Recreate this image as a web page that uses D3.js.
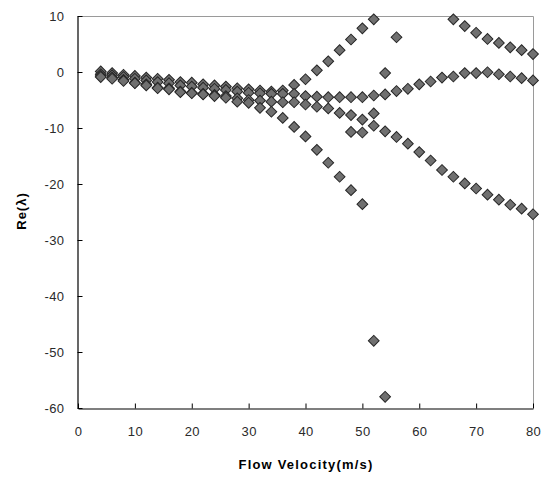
<!DOCTYPE html>
<html>
<head>
<meta charset="utf-8">
<script src="https://cdn.jsdelivr.net/npm/d3@7"></script>
<style>
  body { margin: 0; background: #fff; }
  svg { display: block; font-family: Arial, "Liberation Sans", sans-serif; }
</style>
</head>
<body>
<script>
// flow velocity (m/s), one entry per computed step
const velocity = [4, 6, 8, 10, 12, 14, 16, 18, 20, 22, 24, 26, 28, 30, 32, 34, 36, 38, 40, 42,
                  44, 46, 48, 50, 52, 54, 56, 58, 60, 62, 64, 66, 68, 70, 72, 74, 76, 78, 80];

// Re(lambda) of each root, null where the root is not plotted
const rootRising = [0.1, -0.2, -0.5, -0.7, -1.0, -1.2, -1.4, -1.8, -1.9, -2.2, -2.4, -2.6, -2.9, -3.1, -3.3, -3.5, -3.3, -2.3, -1.3, 0.3,
                    1.9, 3.9, 5.8, 7.8, 9.4, null, null, null, null, null, null, null, null, null, null, null, null, null, null];
const rootMiddle = [-0.4, -0.6, -0.9, -1.2, -1.5, -1.8, -2.0, -2.4, -2.6, -2.8, -3.0, -3.2, -3.5, -3.7, -3.8, -3.9, -3.9, -3.9, -4.3, -4.4,
                    -4.5, -4.5, -4.5, -4.5, -4.2, -4.0, -3.4, -3.0, -2.2, -1.7, -1.0, -0.8, -0.2, -0.2, -0.05, -0.4, -0.8, -1.1, -1.5];
const rootLower = [-0.7, -1.0, -1.4, -1.9, -2.2, -2.8, -2.9, -3.5, -3.7, -3.9, -4.1, -4.3, -4.7, -5.0, -5.1, -5.3, -5.4, -5.4, -5.8, -6.2,
                   -6.5, -7.3, -7.7, -8.5, -7.4, null, null, null, null, null, null, null, null, null, null, null, null, null, null];
const rootSteep = [-0.9, -1.2, -1.6, -2.0, -2.4, -2.9, -3.1, -3.6, -3.8, -4.0, -4.3, -4.6, -5.3, -5.5, -6.4, -7.1, -8.2, -9.8, -11.5, -13.9,
                   -16.2, -18.7, -21.1, -23.6, null, null, null, null, null, null, null, null, null, null, null, null, null, null, null];
const rootFalling = [null, null, null, null, null, null, null, null, null, null, null, null, null, null, null, null, null, null, null, null,
                     null, null, -10.7, -10.8, -9.6, -10.6, -11.6, -12.8, -14.3, -15.8, -17.5, -18.7, -19.9, -20.8, -21.9, -22.8, -23.7, -24.4, -25.4];
const rootUpperRight = [null, null, null, null, null, null, null, null, null, null, null, null, null, null, null, null, null, null, null, null,
                        null, null, null, null, null, null, null, null, null, null, null, 9.4, 8.2, 7.0, 5.9, 5.2, 4.4, 3.9, 3.2];

// stray roots
const strayV = [52, 54, 54, 56];
const strayRe = [-48, -58, -0.2, 6.2];

const xTicks = [0, 10, 20, 30, 40, 50, 60, 70, 80];
const yTicks = [10, 0, -10, -20, -30, -40, -50, -60];

const width = 547, height = 478;
const margin = {top: 16, right: 14, bottom: 70, left: 78};

const x = d3.scaleLinear([0, 80], [margin.left, width - margin.right]);
const y = d3.scaleLinear([-60, 10], [height - margin.bottom, margin.top]);

const points = [];
[rootRising, rootMiddle, rootLower, rootSteep, rootFalling, rootUpperRight].forEach(s => {
  s.forEach((v, i) => { if (v !== null) points.push([velocity[i], v]); });
});
strayV.forEach((v, i) => points.push([v, strayRe[i]]));

const svg = d3.select("body").append("svg")
    .attr("width", width)
    .attr("height", height)
    .attr("viewBox", [0, 0, width, height]);

svg.append("rect").attr("width", width).attr("height", height).attr("fill", "#fff");

// gray frame on top and right
svg.append("path")
    .attr("fill", "none")
    .attr("stroke", "#9a9a9a")
    .attr("d", `M${x(0)},${y(10) + 0.5}H${x(80) + 0.5}V${y(-60)}`);

const plain = d => String(d); // keep ascii hyphen like the original

const xAxis = svg.append("g")
    .attr("transform", `translate(0,${y(-60) + 0.5})`)
    .call(d3.axisBottom(x).tickValues(xTicks).tickFormat(plain)
      .tickSizeInner(-5).tickSizeOuter(0).tickPadding(18));

const yAxis = svg.append("g")
    .attr("transform", `translate(${x(0) - 0.5},0)`)
    .call(d3.axisLeft(y).tickValues(yTicks).tickFormat(plain)
      .tickSizeInner(-5).tickSizeOuter(0).tickPadding(13));

[xAxis, yAxis].forEach(g => {
  g.select(".domain").attr("stroke", "#000").attr("stroke-width", 1.2);
  g.selectAll(".tick line").attr("stroke", "#000");
  g.selectAll(".tick text")
      .attr("fill", "#2a2a2a")
      .attr("font-size", 13)
      .attr("letter-spacing", 0.4)
      .attr("font-family", "Arial, 'Liberation Sans', sans-serif");
});

const diamond = d3.symbol(d3.symbolSquare, 58);

svg.append("g")
  .selectAll("path")
  .data(points)
  .join("path")
    .attr("transform", d => `translate(${x(d[0])},${y(d[1])}) rotate(45)`)
    .attr("d", diamond)
    .attr("fill", "#707070")
    .attr("stroke", "#262626")
    .attr("stroke-width", 1);

svg.append("text")
    .attr("x", 306)
    .attr("y", 469)
    .attr("text-anchor", "middle")
    .attr("font-size", 13)
    .attr("font-weight", "bold")
    .attr("letter-spacing", 1.2)
    .text("Flow Velocity(m/s)");

svg.append("text")
    .attr("transform", "translate(26,211) rotate(-90)")
    .attr("text-anchor", "middle")
    .attr("font-size", 13)
    .attr("font-weight", "bold")
    .attr("letter-spacing", 1)
    .text("Re(λ)");
</script>
</body>
</html>
